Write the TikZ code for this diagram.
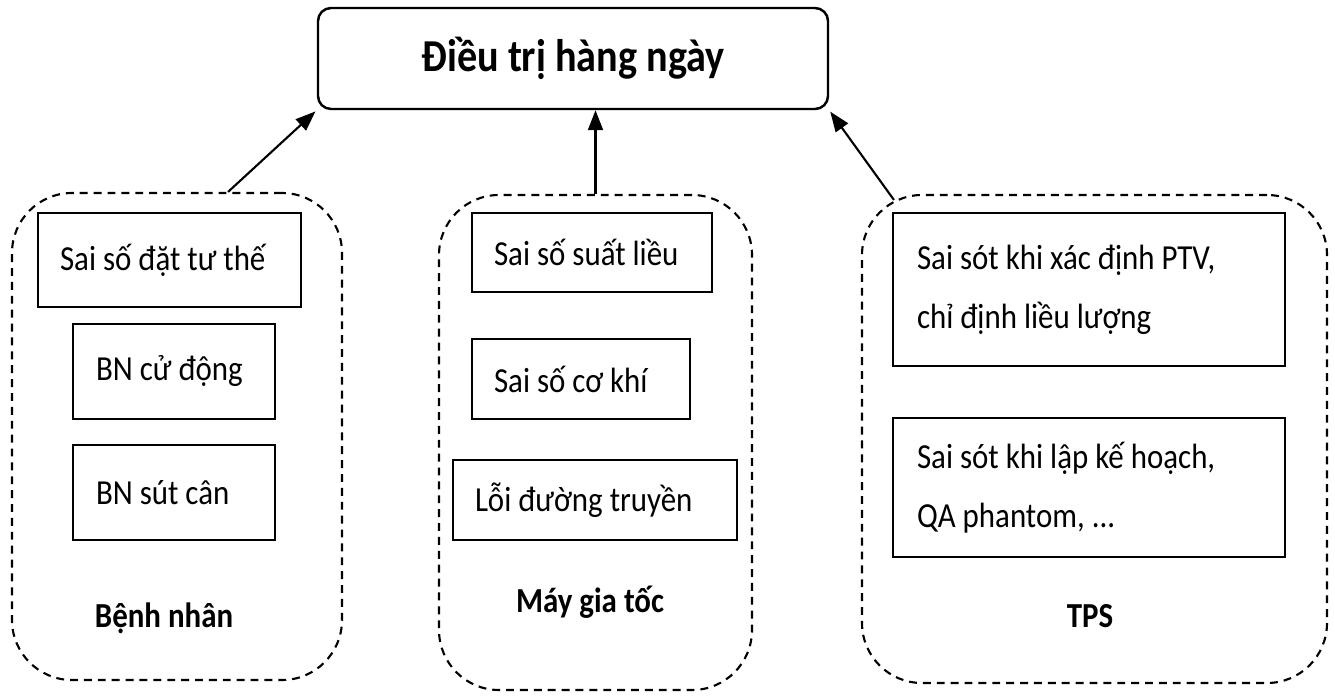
\documentclass[tikz,border=0pt]{standalone}
\usepackage{fontspec}
\setmainfont{Carlito}[FakeStretch=0.88]
\usepackage{tikz}
\usetikzlibrary{arrows.meta,calc}
\tikzset{every path/.style={line width=1.4pt}}
\tikzset{errbox/.style={draw,rectangle,inner sep=0pt}}
\tikzset{errtext/.style={anchor=west,align=left,inner sep=0pt,font=\fontsize{20}{33.5}\selectfont}}
\tikzset{groupbox/.style={draw,rectangle,rounded corners=1.2cm,line width=1.2pt,dash pattern=on 4.5pt off 3.4pt}}
\tikzset{grouplabel/.style={anchor=base,font=\bfseries\fontsize{20}{24}\selectfont}}
\tikzset{toarrow/.style={line width=1.2pt,-{Triangle[length=0.4cm,width=0.3cm]}}}

\begin{document}
\begin{tikzpicture}
\useasboundingbox (0,0) rectangle (26.7,13.9);

\node[draw,rectangle,rounded corners=0.26cm,minimum width=10.2cm,minimum height=2.02cm,font=\bfseries\fontsize{26}{31}\selectfont] (top) at (11.46,12.73) {Điều trị hàng ngày};

\node[groupbox,minimum width=6.6cm,minimum height=9.74cm] (pat) at (3.54,5.17) {};
\node[groupbox,minimum width=6.26cm,minimum height=9.9cm] (mach) at (11.91,5.05) {};
\node[groupbox,minimum width=9.3cm,minimum height=9.76cm] (tps) at (21.89,5.12) {};

\node[errbox,minimum width=5.26cm,minimum height=1.88cm] (pos) at (3.39,8.70) {};
\node[errtext] (postext) at ([xshift=0.44cm]pos.west) {Sai số đặt tư thế};
\node[errbox,minimum width=4.04cm,minimum height=1.9cm] (move) at (3.48,6.47) {};
\node[errtext] (movetext) at ([xshift=0.46cm]move.west) {BN cử động};
\node[errbox,minimum width=4.04cm,minimum height=1.9cm] (loss) at (3.48,4.05) {};
\node[errtext] (losstext) at ([xshift=0.46cm]loss.west) {BN sút cân};
\node[grouplabel] (patlbl) at (3.28,1.36) {Bệnh nhân};

\node[errbox,minimum width=4.8cm,minimum height=1.58cm] (rate) at (11.84,8.85) {};
\node[errtext] (ratetext) at ([xshift=0.44cm]rate.west) {Sai số suất liều};
\node[errbox,minimum width=4.36cm,minimum height=1.6cm] (mech) at (11.62,6.32) {};
\node[errtext] (mechtext) at ([xshift=0.44cm]mech.west) {Sai số cơ khí};
\node[errbox,minimum width=5.68cm,minimum height=1.6cm] (line) at (11.90,3.90) {};
\node[errtext] (linetext) at ([xshift=0.44cm]line.west) {Lỗi đường truyền};
\node[grouplabel] (machlbl) at (11.8,1.66) {Máy gia tốc};

\node[errbox,minimum width=7.84cm,minimum height=3.06cm] (ptv) at (21.78,8.11) {};
\node[errtext] (ptvtext) at ([xshift=0.48cm]ptv.west) {Sai sót khi xác định PTV,\\chỉ định liều lượng};
\node[errbox,minimum width=7.84cm,minimum height=2.78cm] (plan) at (21.78,4.15) {};
\node[errtext] (plantext) at ([xshift=0.48cm]plan.west) {Sai sót khi lập kế hoạch,\\QA phantom, ...};
\node[grouplabel] (tpslbl) at (21.8,1.36) {TPS};

\draw[toarrow,shorten >=1pt] ($(pat.north)+(1.02,0)$) -- (top.south west);
\draw[toarrow] (mach.north) -- (mach.north |- top.south);
\draw[toarrow,shorten >=1pt] ($(tps.north west)+(0.66,-0.12)$) -- (top.south east);
\end{tikzpicture}
\end{document}
